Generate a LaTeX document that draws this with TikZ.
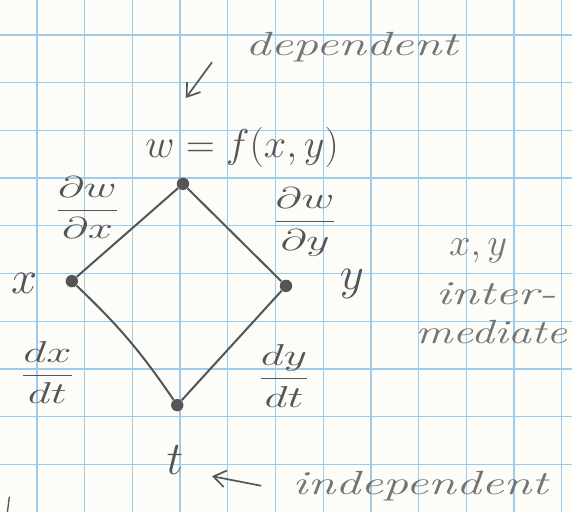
\RequirePackage{fix-cm}
\documentclass[tikz,border=0pt]{standalone}
\usepackage{amsmath}
\usepackage{graphicx}
\usepackage{tikz}
\usetikzlibrary{arrows.meta,positioning}
\definecolor{GridBlue}{HTML}{9FCBEA}
\definecolor{Ink}{HTML}{555555}
\definecolor{InkLight}{HTML}{747474}
\definecolor{Paper}{HTML}{FCFCF9}
\newcommand{\wide}[1]{\scalebox{1.5}[1]{#1}}

\begin{document}
\begin{tikzpicture}[
        gridline/.style={draw=GridBlue, line width=0.8pt},
        vert/.style={circle, fill=Ink, inner sep=0pt, minimum size=2.6mm},
        edge/.style={draw=Ink, line width=1.2pt},
        hand/.style={text=InkLight, inner sep=0pt, anchor=base,
          font=\fontsize{20}{24}\selectfont\itshape},
        var/.style={text=Ink, inner sep=0pt, anchor=base,
          font=\fontsize{28}{32}\selectfont},
        rate/.style={text=Ink, inner sep=0pt,
          font=\fontsize{18}{22}\selectfont},
        pointer/.style={-{Straight Barb[length=2.5mm,width=3.5mm]}, draw=Ink, line width=1pt}
      ]
        \useasboundingbox (-0.776,0) rectangle (11.216,10.734);
        \fill[Paper] (-0.776,0) rectangle (11.216,10.734);
        \draw[gridline, step=1] (-0.776,0.01) grid (11.216,10.734);

        % tree of variables
        \node[vert] (w) at (3.06,6.88) {};
        \node[vert] (x) at (0.73,4.84) {};
        \node[vert] (y) at (5.22,4.74) {};
        \node[vert] (t) at (2.94,2.24) {};
        \draw[edge] (x) -- (w);
        \draw[edge] (w) -- (y);
        \draw[edge] (x) to[bend left=6] (t);
        \draw[edge] (y) -- (t);

        % labels
        \node[var, font=\fontsize{24}{28}\selectfont] (lw) at (4.30,7.44) {$w=f(x,y)$};
        \node[var] (lx) at (-0.27,4.59) {$x$};
        \node[var] (ly) at (6.60,4.67) {$y$};
        \node[var] (lt) at (2.89,0.78) {$t$};
        \node[rate] (dwdx) at (1.06,6.38) {\wide{$\dfrac{\partial w}{\partial x}$}};
        \node[rate] (dwdy) at (5.62,6.08) {\wide{$\dfrac{\partial w}{\partial y}$}};
        \node[rate] (dxdt) at (0.22,2.92) {\wide{$\dfrac{dx}{dt}$}};
        \node[rate] (dydt) at (5.18,2.85) {\wide{$\dfrac{dy}{dt}$}};

        \node[hand] (dep) at (6.59,9.58) {\wide{dependent}};
        \node[hand] (indep) at (8.03,0.36) {\wide{independent}};
        \node[hand, font=\fontsize{23}{27}\selectfont] (xy) at (9.25,5.37) {$x,y$};
        \node[hand] (inter) at (9.62,4.36) {\wide{inter-}};
        \node[hand] (medi) at (9.52,3.54) {\scalebox{1.38}[1]{mediate}};

        \coordinate (deptail) at (3.67,9.43);
        \coordinate (deptip) at (3.12,8.68);
        \coordinate (indtail) at (4.70,0.55);
        \coordinate (indtip) at (3.67,0.75);
        \draw[pointer] (deptail) -- (deptip);
        \draw[pointer] (indtail) -- (indtip);

        \draw[Ink, line width=0.8pt] (-0.58,0.32) -- (-0.62,0);
      \end{tikzpicture}
\end{document}
